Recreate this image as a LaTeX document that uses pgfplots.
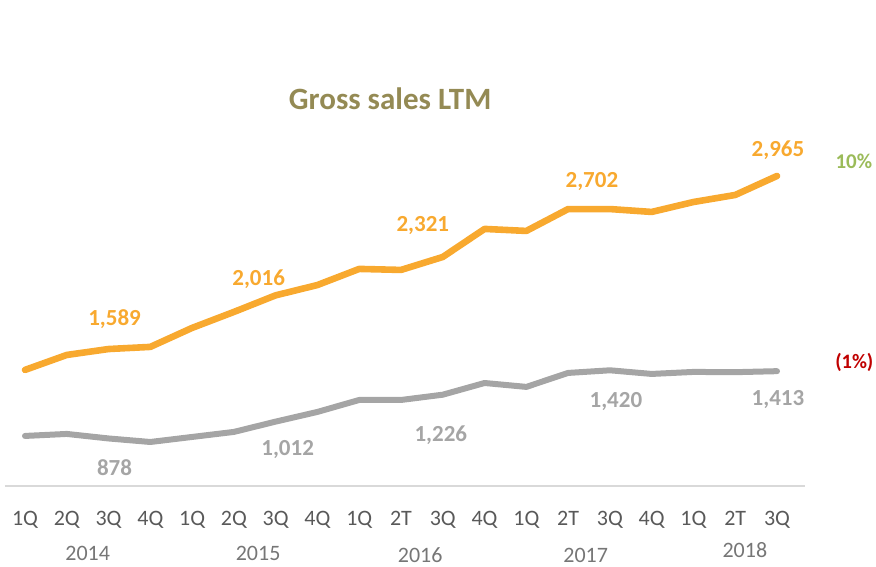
\documentclass[border=0pt]{standalone}
\usepackage{pgfplots}
\pgfplotsset{compat=1.18}
\usepackage{fontspec}
\setmainfont{Carlito}
\definecolor{salesorange}{HTML}{F8A92F}
\definecolor{linegray}{HTML}{A5A5A5}
\definecolor{tickgray}{HTML}{595959}
\definecolor{yeargray}{HTML}{767676}
\definecolor{titleolive}{HTML}{948A54}
\definecolor{posgreen}{HTML}{9BBB59}
\definecolor{negred}{HTML}{C00000}
\definecolor{axisgray}{HTML}{D9D9D9}
\begin{document}
\begin{tikzpicture}
\useasboundingbox (0,0) rectangle (876pt,566pt);
\begin{axis}[
  at={(5pt,80pt)}, anchor=south west,
  scale only axis, width=800pt, height=346pt,
  xmin=-0.479, xmax=18.67, ymin=500, ymax=3251,
  axis x line*=bottom, axis y line=none,
  x axis line style={draw=axisgray, line width=1.6pt, -},
  major tick length=0pt,
  xtick={0,...,18},
  xticklabels={1Q,2Q,3Q,4Q,1Q,2Q,3Q,4Q,1Q,2T,3Q,4Q,1Q,2T,3Q,4Q,1Q,2T,3Q},
  xticklabel style={font=\fontsize{22}{24}\selectfont, text=tickgray, anchor=base, yshift=-39.5pt},
  ytick=\empty,
  clip=false,
]
\addplot[salesorange, line width=6.6pt, line join=round, line cap=round] coordinates {
(0,1423)(1,1542)(2,1589)(3,1606)(4,1757)(5,1884)(6,2016)(7,2098)(8,2226)(9,2218)
(10,2321)(11,2544)(12,2528)(13,2702)(14,2702)(15,2679)(16,2758)(17,2814)(18,2965)};
\addplot[linegray, line width=6pt, line join=round, line cap=round] coordinates {
(0,898)(1,914)(2,878)(3,850)(4,890)(5,930)(6,1012)(7,1089)(8,1184)(9,1184)
(10,1226)(11,1319)(12,1288)(13,1399)(14,1420)(15,1391)(16,1407)(17,1405)(18,1413)};
% data labels
\begin{scope}[every node/.style={anchor=base, font=\fontsize{23}{25}\selectfont\bfseries}]
\node[text=salesorange, xshift=6pt,  yshift=24pt] at (axis cs:2,1589) {1,589};
\node[text=salesorange, xshift=-17pt, yshift=10pt] at (axis cs:6,2016) {2,016};
\node[text=salesorange, xshift=-20pt, yshift=25pt] at (axis cs:10,2321) {2,321};
\node[text=salesorange, xshift=-18pt, yshift=22pt] at (axis cs:14,2702) {2,702};
\node[text=salesorange, xshift=1pt,  yshift=19pt] at (axis cs:18,2965) {2,965};
\node[text=linegray, xshift=6pt,  yshift=-37pt] at (axis cs:2,878) {878};
\node[text=linegray, xshift=12pt, yshift=-34pt] at (axis cs:6,1012) {1,012};
\node[text=linegray, xshift=-2pt, yshift=-47pt] at (axis cs:10,1226) {1,226};
\node[text=linegray, xshift=6pt,  yshift=-37pt] at (axis cs:14,1420) {1,420};
\node[text=linegray, xshift=1pt,  yshift=-34pt] at (axis cs:18,1413) {1,413};
\end{scope}
% years
\begin{scope}[every node/.style={anchor=base, inner sep=0pt, text=yeargray, font=\fontsize{22}{24}\selectfont}]
\node[yshift=-74pt] at (axis cs:1.5,500) {2014};
\node[yshift=-74pt] at (axis cs:5.58,500) {2015};
\node[yshift=-76pt] at (axis cs:9.46,500) {2016};
\node[yshift=-76pt] at (axis cs:13.42,500) {2017};
\node[yshift=-71pt] at (axis cs:17.23,500) {2018};
\end{scope}
% title and growth labels
\node[anchor=base, text=titleolive, font=\fontsize{31}{34}\selectfont\bfseries, yshift=31pt] at (axis cs:8.74,3251) {Gross sales LTM};
\node[anchor=base, text=posgreen, font=\fontsize{21}{23}\selectfont\bfseries] at (axis cs:19.84,3021) {10\%};
\node[anchor=base, text=negred, font=\fontsize{20.5}{22}\selectfont\bfseries] at (axis cs:19.85,1431) {(1\%)};
\end{axis}
\end{tikzpicture}
\end{document}
